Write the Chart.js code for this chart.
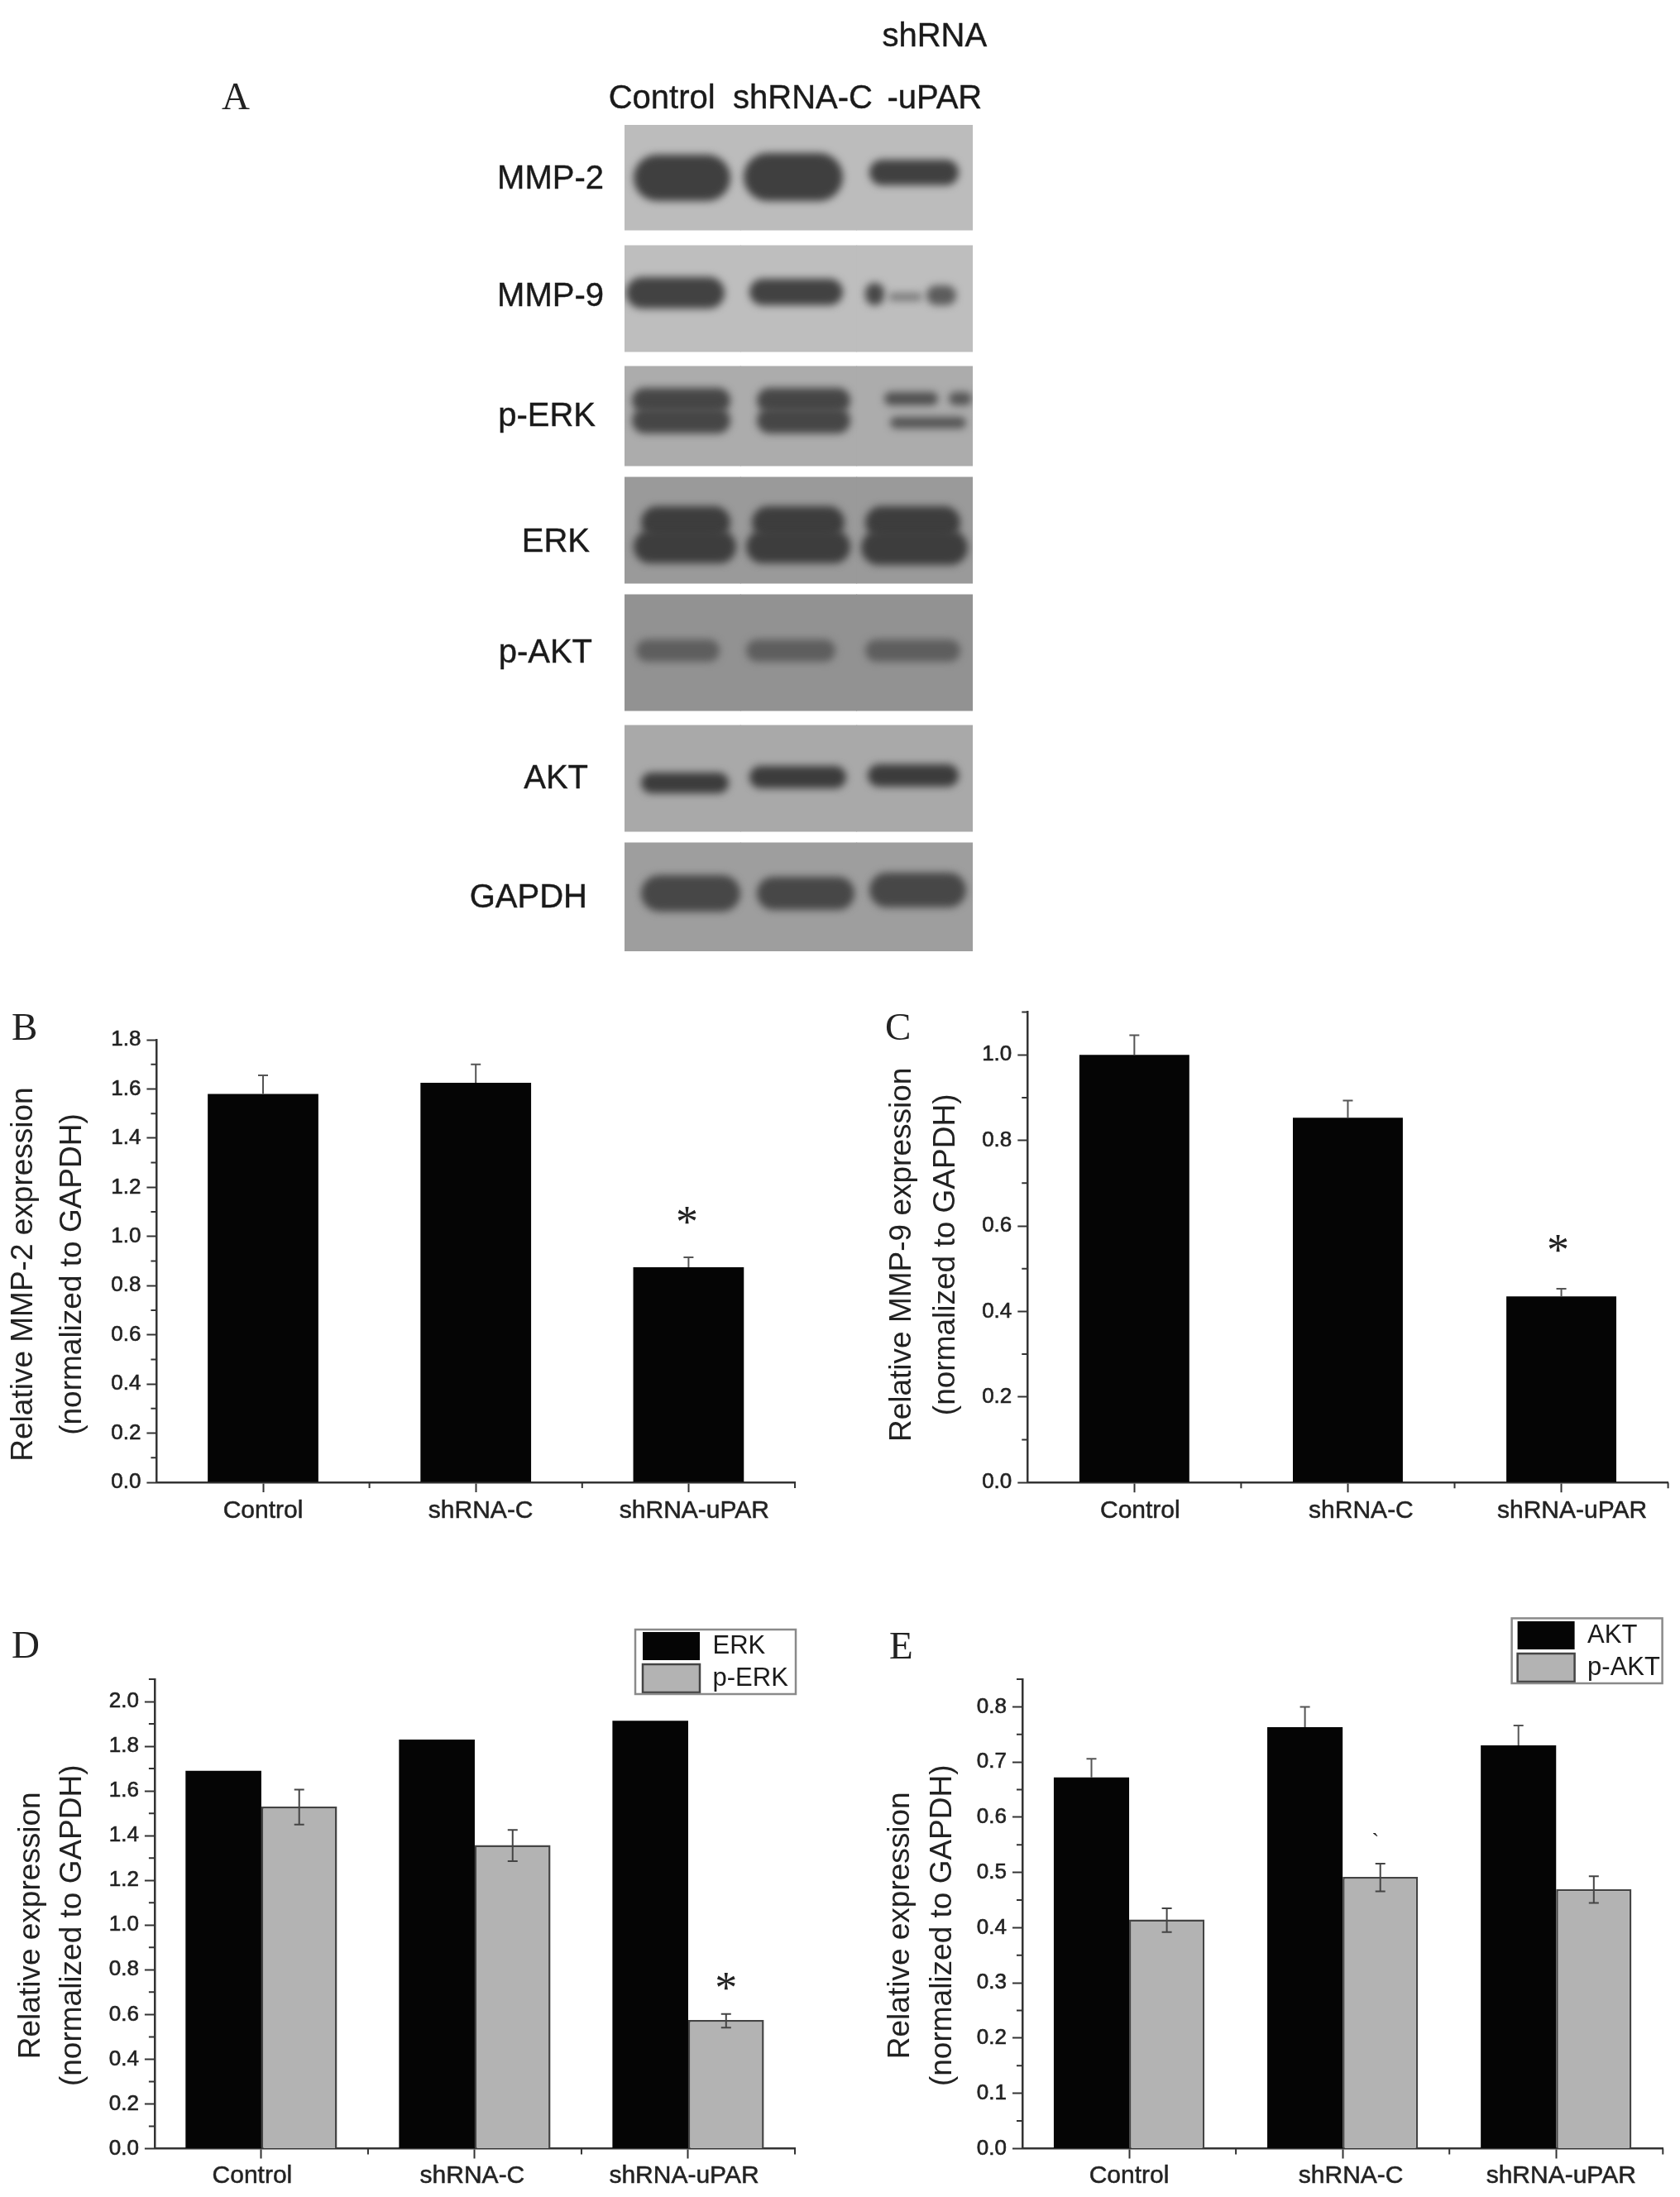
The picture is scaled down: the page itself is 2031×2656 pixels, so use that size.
<!DOCTYPE html>
<html><head><meta charset="utf-8">
<style>html,body{margin:0;padding:0;background:#fff}canvas{position:absolute;display:block}</style>
<script src="https://cdn.jsdelivr.net/npm/chart.js@4/dist/chart.umd.js"></script>
</head><body>
<canvas id="panelA"></canvas><canvas id="panelB"></canvas><canvas id="panelC"></canvas><canvas id="panelD"></canvas><canvas id="panelE"></canvas>
<script>
const groups = ['Control', 'shRNA-C', 'shRNA-uPAR'];

// Panel B
const mmp2Values = [1.58, 1.625, 0.875];
const mmp2ErrTop = [1.655, 1.70, 0.915];
const mmp2Ticks = [0, 0.2, 0.4, 0.6, 0.8, 1.0, 1.2, 1.4, 1.6, 1.8];
// Panel C
const mmp9Values = [1.0, 0.853, 0.435];
const mmp9ErrTop = [1.046, 0.893, 0.453];
const mmp9Ticks = [0, 0.2, 0.4, 0.6, 0.8, 1.0];
// Panel D
const erkValues = [1.69, 1.83, 1.914];
const perkValues = [1.53, 1.358, 0.575];
const perkErrTop = [1.606, 1.426, 0.602];
const perkErrBottom = [1.45, 1.286, 0.541];
const erkTicks = [0, 0.2, 0.4, 0.6, 0.8, 1.0, 1.2, 1.4, 1.6, 1.8, 2.0];
// Panel E
const aktValues = [0.672, 0.763, 0.73];
const aktErrTop = [0.706, 0.80, 0.766];
const paktValues = [0.415, 0.492, 0.47];
const paktErrTop = [0.435, 0.516, 0.493];
const paktErrBottom = [0.392, 0.466, 0.445];
const aktTicks = [0, 0.1, 0.2, 0.3, 0.4, 0.5, 0.6, 0.7, 0.8];

// Panel A (blot): heights of the strips and the gaps, in gel units
const proteins = ['MMP-2', 'MMP-9', 'p-ERK', 'ERK', 'p-AKT', 'AKT', 'GAPDH'];
const laneLabels = ['Control', 'shRNA-C', ['shRNA', '', '-uPAR']];
const stripHeights = [127, 128, 120, 128, 140, 128, 131];
const stripGaps = [19, 18, 14, 14, 18, 14];
const stripShades = ['#bcbcbc', '#bebebe', '#acacac', '#9a9a9a', '#929292', '#a9a9a9', '#9e9e9e'];
const proteinLabelRows = [66, 208, 353, 505, 639, 791, 935];
const proteinLabelNudge = [0, 0, -10, -17, -14, -19, -20];
const laneLabelNudge = [-25, 5, 24];
// bands: [gel x from, gel x to, gel y from, gel y to, shade]
const gelBands = [
  [11, 128, 36, 92, '#3f3f3f'], [144, 264, 34, 92, '#3f3f3f'], [296, 404, 42, 73, '#404040'],
  [2, 121, 184, 222, '#424242'], [151, 264, 186, 218, '#424242'], [291, 314, 191, 218, '#484848'], [319, 360, 203, 213, '#7c7c7c'], [365, 401, 194, 218, '#5c5c5c'],
  [9, 128, 318, 348, '#464646'], [9, 128, 342, 373, '#464646'], [160, 273, 318, 348, '#464646'], [160, 273, 342, 373, '#464646'],
  [314, 379, 323, 339, '#505050'], [392, 420, 323, 339, '#555555'], [321, 413, 353, 367, '#555555'],
  [20, 128, 461, 500, '#3d3d3d'], [11, 135, 490, 530, '#3d3d3d'], [154, 266, 461, 500, '#3d3d3d'], [147, 273, 490, 530, '#3d3d3d'], [291, 406, 461, 500, '#3d3d3d'], [286, 415, 490, 532, '#3d3d3d'],
  [14, 115, 622, 649, '#5e5e5e'], [147, 255, 622, 649, '#5e5e5e'], [291, 406, 622, 649, '#5e5e5e'],
  [20, 126, 783, 808, '#3c3c3c'], [151, 268, 775, 802, '#3c3c3c'], [294, 404, 773, 800, '#3c3c3c'],
  [20, 140, 907, 951, '#474747'], [160, 278, 909, 949, '#474747'], [296, 413, 904, 946, '#474747']
];

const SANS = '"Liberation Sans", Arial, sans-serif';
const SERIF = '"Liberation Serif", "Times New Roman", serif';
const AXIS = '#333333';
Chart.defaults.font.family = SANS;
Chart.defaults.animation = false;

function place(id, r) {
  const c = document.getElementById(id);
  c.width = r.w; c.height = r.h;
  c.style.left = r.x + 'px'; c.style.top = r.y + 'px';
  c.style.width = r.w + 'px'; c.style.height = r.h + 'px';
  return c;
}

function nudgeLabels(scale, nudgeX) {
  scale.getLabelItems().forEach((it, i) => {
    if (it._nudged) return;
    it._nudged = true;
    it.options.translation[0] += nudgeX[i] || 0;
  });
}

const panelPlugin = {
  id: 'panelPlugin',
  beforeDraw(chart, a, o) {
    if (chart.scales.x && o.xNudge) nudgeLabels(chart.scales.x, o.xNudge);
    if (chart.scales.y && o.yNudge) nudgeLabels(chart.scales.y, o.yNudge);
    const y = chart.scales.y;
    if (o.titleShift && !y._shifted) {
      y._shifted = true;
      const orig = y.drawTitle;
      y.drawTitle = function () {
        const ctx = this.ctx; ctx.save(); ctx.translate(0, o.titleShift); orig.call(this); ctx.restore();
      };
    }
    if (o.legendAt && chart.legend) {
      const l = chart.legend;
      l.left = o.legendAt.x - 5; l.top = o.legendAt.y - 5;
      l.width = 220; l.height = 120; l.right = l.left + 220; l.bottom = l.top + 120;
    }
  },
  afterDatasetsDraw(chart, a, o) {
    const ctx = chart.ctx, x = chart.scales.x, y = chart.scales.y;
    ctx.save();
    // error bars
    (o.errors || []).forEach(e => {
      const bars = chart.getDatasetMeta(e.dataset).data;
      bars.forEach((b, i) => {
        const yT = y.getPixelForValue(e.top[i]);
        const yB = e.bottom ? y.getPixelForValue(e.bottom[i]) : b.y;
        ctx.strokeStyle = e.color; ctx.lineWidth = 2;
        ctx.beginPath();
        ctx.moveTo(b.x, yT); ctx.lineTo(b.x, yB);
        ctx.moveTo(b.x - 6, yT); ctx.lineTo(b.x + 6, yT);
        if (e.bottom) { ctx.moveTo(b.x - 6, yB); ctx.lineTo(b.x + 6, yB); }
        ctx.stroke();
      });
    });
    // minor ticks on both axes
    if (o.minorStep) {
      ctx.strokeStyle = AXIS; ctx.lineWidth = 2;
      ctx.beginPath();
      for (let k = 1, v; (v = k * o.minorStep) <= y.max + 1e-9; k += 2) {
        const p = y.getPixelForValue(v);
        ctx.moveTo(x.left, p); ctx.lineTo(x.left - 7, p);
      }
      const w = (x.right - x.left) / groups.length;
      for (let k = 1; k <= groups.length; k++) {
        const p = x.left + k * w;
        ctx.moveTo(p, y.bottom); ctx.lineTo(p, y.bottom + 7);
      }
      ctx.stroke();
    }
    // significance marks
    (o.marks || []).forEach(m => {
      const b = chart.getDatasetMeta(m.dataset).data[m.index];
      ctx.fillStyle = '#222';
      ctx.font = m.size + 'px ' + SERIF;
      ctx.textAlign = 'center'; ctx.textBaseline = 'middle';
      ctx.fillText(m.text, b.x + (m.dx || 0), y.getPixelForValue(m.value) + (m.dy || 0));
    });
    ctx.restore();
  },
  afterDraw(chart, a, o) {
    const ctx = chart.ctx;
    ctx.save();
    if (o.letter) {
      ctx.fillStyle = '#222';
      ctx.font = '47px ' + SERIF;
      ctx.textAlign = 'left'; ctx.textBaseline = 'alphabetic';
      ctx.fillText(o.letter.text, o.letter.x, o.letter.y);
    }
    if (o.frame) {
      ctx.strokeStyle = '#8a8a8a'; ctx.lineWidth = 2.5;
      ctx.strokeRect(o.frame.x, o.frame.y, o.frame.w, o.frame.h);
    }
    ctx.restore();
  }
};

function panel(id, g) {
  const r = g.rect;
  const ctx = place(id, r);
  const datasets = g.series.map(s => ({
    label: s.label, data: s.data,
    backgroundColor: s.color,
    borderColor: s.border || s.color,
    borderWidth: s.border ? 2.5 : 0,
    categoryPercentage: g.groupWidth, barPercentage: 1
  }));
  return new Chart(ctx, {
    type: 'bar',
    data: { labels: groups, datasets },
    plugins: [panelPlugin],
    options: {
      responsive: false, devicePixelRatio: 1, animation: false,
      layout: { autoPadding: false, padding: { left: 0, top: g.axisTop - r.y, right: r.x + r.w - g.axisRight, bottom: 0 } },
      plugins: {
        tooltip: { enabled: false },
        legend: g.legend ? {
          display: true, position: 'chartArea', align: 'start',
          labels: { boxWidth: 69, boxHeight: 34, padding: 5, color: '#1a1a1a', font: { size: 31, family: SANS } }
        } : { display: false },
        panelPlugin: {
          xNudge: g.xNudge, titleShift: g.titleShift, minorStep: g.minorStep,
          errors: g.errors, marks: g.marks, letter: g.letter,
          legendAt: g.legend ? g.legend.at : null, frame: g.legend ? g.legend.frame : null
        }
      },
      scales: {
        x: {
          type: 'category', position: 'bottom', offset: true,
          afterFit(s) { s.height = r.y + r.h - g.axisBottom; },
          border: { display: true, color: AXIS, width: 2.5 },
          grid: { display: true, offset: false, drawOnChartArea: false, drawTicks: true, tickLength: 12, tickColor: AXIS, tickWidth: 2 },
          ticks: { padding: g.xPad, color: '#222', maxRotation: 0, minRotation: 0, autoSkip: false, textStrokeColor: '#222', textStrokeWidth: 0.5, font: { size: 30, family: SANS } }
        },
        y: {
          type: 'linear', position: 'left', min: 0, max: g.max,
          afterFit(s) { s.width = g.axisLeft - r.x; },
          afterBuildTicks(s) { s.ticks = g.ticks.map(v => ({ value: v })); },
          border: { display: true, color: AXIS, width: 2.5 },
          grid: { display: true, drawOnChartArea: false, drawTicks: true, tickLength: 12, tickColor: AXIS, tickWidth: 2 },
          ticks: { padding: 7, color: '#222', autoSkip: false, textStrokeColor: '#222', textStrokeWidth: 0.6, font: { size: 26, family: SANS }, callback: v => v.toFixed(1) },
          title: { display: true, text: g.title, color: '#222', padding: { top: g.titlePad, bottom: 0 }, font: { size: 37, family: SANS, lineHeight: g.titleSpacing / 37 } }
        }
      }
    }
  });
}

panel('panelB', {
  rect: { x: 0, y: 1200, w: 1000, h: 700 }, axisLeft: 189.4, axisRight: 961, axisTop: 1257, axisBottom: 1792,
  max: 1.8, ticks: mmp2Ticks, minorStep: 0.1, groupWidth: 0.52, xPad: 5, xNudge: [0, 6, 7],
  title: ['Relative MMP-2 expression', '(normalized to GAPDH)'], titlePad: -1, titleSpacing: 59, titleShift: 16,
  series: [{ label: 'MMP-2', data: mmp2Values, color: '#050505' }],
  errors: [{ dataset: 0, top: mmp2ErrTop, color: '#555' }],
  marks: [{ dataset: 0, index: 2, value: 1.08, text: '*', size: 54, dy: 10, dx: -2 }],
  letter: { text: 'B', x: 14, y: 57 }
});

panel('panelC', {
  rect: { x: 1040, y: 1200, w: 991, h: 700 }, axisLeft: 1242.3, axisRight: 2016.6, axisTop: 1223.5, axisBottom: 1792.2,
  max: 1.1, ticks: mmp9Ticks, minorStep: 0.1, groupWidth: 0.515, xPad: 5, xNudge: [7, 16, 13],
  title: ['Relative MMP-9 expression', '(normalized to GAPDH)'], titlePad: 23.7, titleSpacing: 53.7, titleShift: 9,
  series: [{ label: 'MMP-9', data: mmp9Values, color: '#050505' }],
  errors: [{ dataset: 0, top: mmp9ErrTop, color: '#555' }],
  marks: [{ dataset: 0, index: 2, value: 0.555, text: '*', size: 54, dy: 10, dx: -4 }],
  letter: { text: 'C', x: 30, y: 57 }
});

panel('panelD', {
  rect: { x: 0, y: 1940, w: 1000, h: 716 }, axisLeft: 186.9, axisRight: 961, axisTop: 2030, axisBottom: 2597.5,
  max: 2.1, ticks: erkTicks, minorStep: 0.1, groupWidth: 0.71, xPad: 3, xNudge: [-11, -3, -5],
  title: ['Relative expression', '(normalized to GAPDH)'], titlePad: 13, titleSpacing: 50, titleShift: 14,
  series: [
    { label: 'ERK', data: erkValues, color: '#050505' },
    { label: 'p-ERK', data: perkValues, color: '#b3b3b3', border: '#444444' }
  ],
  errors: [{ dataset: 1, top: perkErrTop, bottom: perkErrBottom, color: '#444' }],
  marks: [{ dataset: 1, index: 2, value: 0.741, text: '*', size: 54, dy: 10 }],
  letter: { text: 'D', x: 14, y: 64 },
  legend: { at: { x: 777, y: 33 }, frame: { x: 768, y: 30, w: 194, h: 78 } }
});

panel('panelE', {
  rect: { x: 1040, y: 1940, w: 991, h: 716 }, axisLeft: 1236, axisRight: 2010.3, axisTop: 2030, axisBottom: 2597.5,
  max: 0.85, ticks: aktTicks, minorStep: 0.05, groupWidth: 0.706, xPad: 3, xNudge: [0, 10, 6],
  title: ['Relative expression', '(normalized to GAPDH)'], titlePad: 23.5, titleSpacing: 51, titleShift: 14,
  series: [
    { label: 'AKT', data: aktValues, color: '#050505' },
    { label: 'p-AKT', data: paktValues, color: '#b3b3b3', border: '#444444' }
  ],
  errors: [
    { dataset: 0, top: aktErrTop, color: '#555' },
    { dataset: 1, top: paktErrTop, bottom: paktErrBottom, color: '#444' }
  ],
  marks: [{ dataset: 1, index: 1, value: 0.555, text: '`', size: 26, dx: -6 }],
  letter: { text: 'E', x: 35, y: 65 },
  legend: { at: { x: 794.6, y: 20 }, frame: { x: 787.6, y: 16.4, w: 182, h: 78.6 } }
});

// Panel A: the strips are floating bars; the bands are blurred on top through the same scales
(function () {
  const r = { x: 250, y: 0, w: 1000, h: 1170 };
  const canvas = place('panelA', r);
  let cursor = 0;
  const datasets = proteins.map((p, i) => {
    const span = [cursor, cursor + stripHeights[i]];
    cursor = span[1] + (stripGaps[i] || 0);
    return {
      label: p, data: laneLabels.map(() => span), backgroundColor: stripShades[i],
      grouped: false, barPercentage: 1, categoryPercentage: 1, borderWidth: 0, inflateAmount: 0.5
    };
  });
  const gelHeight = cursor;
  const bandsPlugin = {
    id: 'bandsPlugin',
    afterDatasetsDraw(chart) {
      const ctx = chart.ctx, gx = chart.scales.gelX, y = chart.scales.y;
      const a = chart.chartArea;
      ctx.save();
      ctx.beginPath(); ctx.rect(a.left, a.top, a.right - a.left, a.bottom - a.top); ctx.clip();
      ctx.filter = 'blur(5px)';
      gelBands.forEach(b => {
        const x0 = gx.getPixelForValue(b[0]), x1 = gx.getPixelForValue(b[1]);
        const y0 = y.getPixelForValue(b[2]), y1 = y.getPixelForValue(b[3]);
        ctx.fillStyle = b[4];
        ctx.beginPath();
        ctx.roundRect(x0, y0, x1 - x0, y1 - y0, (y1 - y0) / 2);
        ctx.fill();
      });
      ctx.restore();
    }
  };
  new Chart(canvas, {
    type: 'bar',
    data: { labels: laneLabels, datasets },
    plugins: [panelPlugin, bandsPlugin],
    options: {
      responsive: false, devicePixelRatio: 1, animation: false,
      layout: { autoPadding: false, padding: { left: 0, top: 0, right: r.x + r.w - 1176, bottom: r.y + r.h - 1150 } },
      plugins: {
        legend: { display: false }, tooltip: { enabled: false },
        panelPlugin: { xNudge: laneLabelNudge, yNudge: proteinLabelNudge, letter: { text: 'A', x: 18, y: 132 } }
      },
      scales: {
        x: {
          type: 'category', position: 'top', offset: true,
          afterFit(s) { s.height = 151; s.paddingLeft = 0; s.paddingRight = 0; },
          border: { display: false }, grid: { display: false },
          ticks: { padding: 4, color: '#1a1a1a', maxRotation: 0, minRotation: 0, autoSkip: false, textStrokeColor: '#1a1a1a', textStrokeWidth: 0.4, font: { size: 40, family: SANS, lineHeight: 0.94 } }
        },
        gelX: { type: 'linear', axis: 'x', display: false, offset: false, min: 0, max: 421, ticks: { display: false }, afterFit(s) { s.paddingLeft = 0; s.paddingRight = 0; } },
        y: {
          type: 'linear', position: 'left', reverse: true, min: 0, max: gelHeight,
          afterFit(s) { s.width = 505; s.paddingTop = 0; s.paddingBottom = 0; },
          afterBuildTicks(s) { s.ticks = proteinLabelRows.map(v => ({ value: v })); },
          border: { display: false }, grid: { display: false },
          ticks: { padding: 17, color: '#1a1a1a', autoSkip: false, textStrokeColor: '#1a1a1a', textStrokeWidth: 0.4, font: { size: 40, family: SANS }, callback: (v, i) => proteins[i] }
        }
      }
    }
  });
})();
</script>
</body></html>
